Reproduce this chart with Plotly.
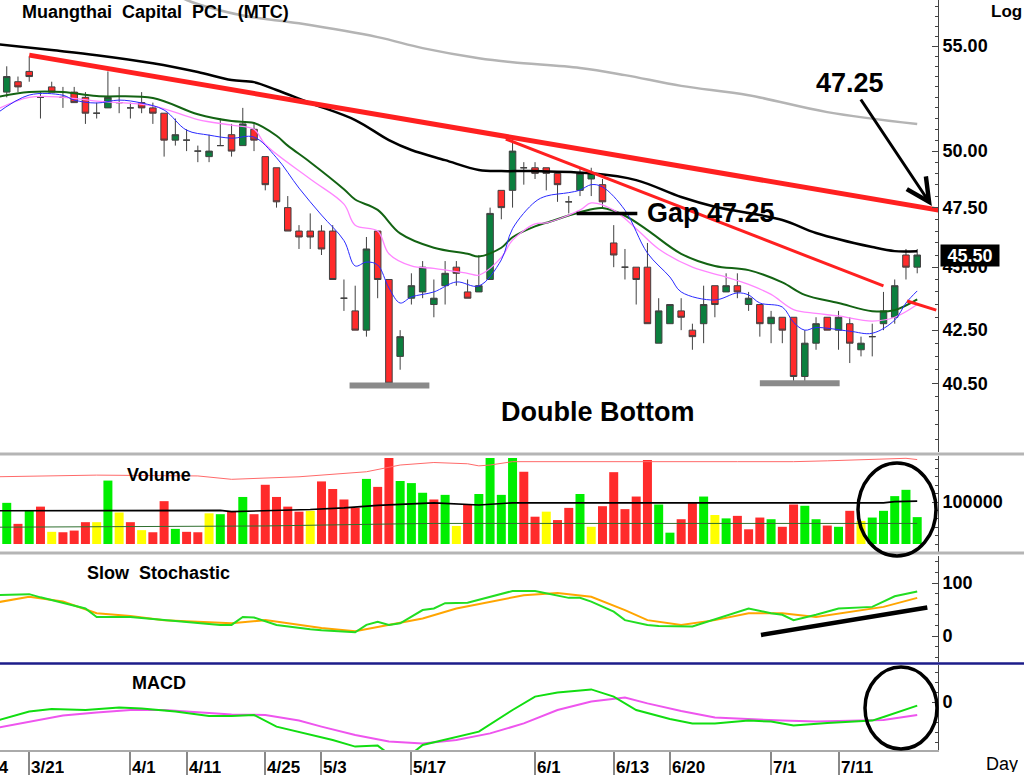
import numpy as np
import plotly.graph_objects as go

# ---------------- data ----------------
day_idx = list(range(82))
open_ = [52.75, 53.25, 53.75, 52.5, 53.0, 52.5, 52.75, 52.5, 51.75, 52.0,
         52.25, 52.0, 52.25, 52.0, 51.75, 50.5, 50.5, 50.0, 49.75, 50.25,
         50.75, 50.25, 51.0, 49.75, 49.25, 47.5, 46.5, 46.5, 46.5, 46.5,
         43.75, 43.25, 42.5, 46.5, 44.5, 41.5, 43.75, 44.0, 43.5, 44.25,
         45.0, 44.0, 44.0, 44.5, 48.25, 48.25, 49.25, 49.25, 49.25, 49.0,
         47.75, 48.25, 48.75, 48.5, 46.0, 45.0, 45.0, 45.0, 42.0, 42.75,
         43.25, 42.5, 42.75, 44.25, 44.0, 44.25, 43.5, 43.5, 42.75, 43.0,
         43.0, 40.75, 42.0, 43.0, 42.5, 42.75, 41.75, 42.25, 42.75, 43.0,
         45.5, 45.0]
high = [54.0, 53.5, 54.5, 52.75, 53.25, 53.0, 53.0, 52.75, 52.25, 53.75,
        53.0, 52.25, 52.75, 52.25, 51.75, 51.5, 51.0, 50.25, 50.75, 51.5,
        51.25, 52.0, 51.25, 49.75, 49.25, 48.0, 46.75, 47.25, 46.75, 46.75,
        44.5, 44.25, 46.25, 46.5, 44.5, 42.5, 44.75, 45.25, 44.5, 45.25,
        45.25, 44.5, 45.5, 47.5, 48.25, 50.5, 49.5, 49.5, 49.25, 49.0,
        48.0, 49.25, 49.25, 48.75, 46.75, 45.75, 45.0, 46.0, 43.75, 43.5,
        43.75, 42.75, 44.25, 44.25, 44.75, 44.75, 44.0, 43.5, 43.25, 43.0,
        43.0, 42.5, 43.0, 43.0, 43.25, 43.0, 42.25, 42.75, 44.0, 44.5,
        45.75, 45.75]
low = [52.5, 52.75, 53.25, 51.5, 52.75, 52.0, 52.25, 51.25, 51.5, 52.0,
       51.75, 51.5, 51.75, 51.25, 49.75, 50.25, 50.0, 49.5, 49.5, 50.25,
       49.75, 50.25, 50.0, 48.25, 47.5, 46.5, 45.75, 45.75, 45.5, 44.5,
       43.25, 42.5, 42.25, 43.75, 40.5, 41.0, 43.5, 43.75, 43.0, 43.5,
       44.25, 43.75, 44.0, 44.5, 47.0, 47.5, 48.5, 48.75, 48.25, 47.75,
       47.25, 48.0, 48.0, 47.5, 45.0, 44.5, 43.5, 42.75, 42.0, 42.75,
       42.5, 41.75, 42.0, 43.0, 44.0, 43.75, 43.25, 42.25, 42.0, 42.0,
       40.5, 40.5, 41.75, 42.5, 41.75, 41.25, 41.5, 41.5, 42.5, 42.75,
       44.5, 44.75]
close = [53.5, 53.0, 53.5, 52.5, 52.75, 52.5, 52.25, 51.75, 51.75, 52.5,
         52.25, 52.0, 52.0, 51.75, 50.5, 50.75, 50.5, 50.0, 50.0, 50.25,
         50.0, 51.25, 50.5, 48.5, 47.75, 46.5, 46.25, 46.25, 45.75, 44.5,
         43.75, 42.5, 45.75, 44.5, 40.5, 42.25, 44.25, 45.0, 43.75, 44.75,
         44.75, 43.75, 44.25, 47.25, 47.5, 50.0, 49.25, 49.0, 49.0, 48.5,
         47.75, 49.0, 49.0, 47.75, 45.5, 45.0, 44.5, 42.75, 43.25, 43.5,
         43.0, 42.25, 43.5, 43.5, 44.25, 44.0, 43.75, 42.75, 43.0, 42.5,
         40.75, 42.0, 42.75, 42.5, 43.0, 42.0, 42.0, 42.25, 43.25, 44.25,
         45.0, 45.5]
volume = [98000, 48000, 81000, 89000, 29000, 28000, 32000, 52000, 52000, 151000,
          75000, 52000, 33000, 28000, 102000, 36000, 29000, 28000, 73000, 71000,
          77000, 112000, 71000, 141000, 112000, 89000, 77000, 79000, 149000, 131000,
          106000, 86000, 155000, 136000, 205000, 150000, 145000, 122000, 106000, 117000,
          43000, 95000, 119000, 205000, 117000, 205000, 172000, 65000, 77000, 57000,
          86000, 119000, 41000, 90000, 171000, 83000, 113000, 200000, 94000, 27000,
          59000, 98000, 113000, 69000, 61000, 67000, 35000, 63000, 59000, 41000,
          94000, 91000, 59000, 44000, 41000, 79000, 55000, 63000, 79000, 114000,
          129000, 64000]
vol_dir = list("GRGRYRRRYG" "YRYRRGRRYG" "RGRRRRRYRR" "RRGRRGGGRG" "YRGGGGRRYR"
               "RGYRRRRRGG" "RRGYGRRRGR" "RGGRGRYGGG" "GG")

# moving averages on price (read at sample days)
ma_gray_x = [14, 16, 21, 26, 33, 37, 42, 45, 51, 55, 60, 66, 73, 81]
ma_gray = [58.0, 57.35, 56.55, 56.15, 55.45, 54.9, 54.4, 54.2, 53.92, 53.57, 53.05, 52.6, 51.8, 51.24]
ma_black_x = [-1, 4, 8, 13, 17, 20, 22, 24, 27, 31, 34, 36, 39, 42, 44, 47, 52, 56, 60, 63, 69, 72, 77, 79, 81]
ma_black = [55.1, 54.8, 54.55, 54.15, 53.72, 53.33, 53.23, 52.85, 52.23, 51.43, 50.5, 50.05, 49.59,
            49.15, 49.1, 49.1, 49.0, 48.7, 47.96, 47.54, 46.97, 46.42, 45.83, 45.66, 45.66]
ma_dgreen_x = [-1, 2, 5, 8, 13, 17, 20, 22, 24, 25, 27, 30, 31, 33, 35, 38, 41, 42, 44, 45, 47, 48,
               51, 53, 55, 57, 60, 63, 66, 69, 71, 74, 77, 79, 81]
ma_dgreen = [52.5, 52.75, 52.75, 52.56, 52.47, 51.7, 51.38, 51.29, 50.7, 50.25, 49.5, 48.3, 47.85,
             47.4, 46.4, 45.8, 45.55, 45.44, 45.8, 46.24, 46.7, 46.85, 47.3, 47.48, 47.15, 46.54,
             45.55, 45.05, 44.88, 44.38, 43.88, 43.56, 43.24, 43.28, 43.7]
ma_pink_x = [-1, 2, 5, 8, 13, 17, 20, 22, 23, 27, 30, 31, 33, 34, 36, 38, 41, 42, 44, 45, 47, 48,
             51, 52, 54, 56, 58, 61, 64, 66, 68, 70, 72, 74, 77, 79, 81]
ma_pink = [51.9, 52.5, 52.5, 52.32, 52.1, 51.45, 51.19, 51.0, 50.3, 48.75, 47.65, 46.75, 46.5,
           45.55, 45.05, 44.95, 44.75, 44.68, 45.4, 46.12, 46.8, 46.85, 47.39, 47.7, 47.39, 46.6,
           45.75, 45.0, 44.6, 44.3, 43.9, 43.3, 43.15, 43.05, 42.85, 43.0, 43.5]
ma_blue_x = [-1, 2, 5, 6, 8, 10, 12, 14, 16, 18, 20, 22, 24, 26, 28, 30, 31, 32, 33, 34, 35, 36,
             38, 40, 42, 44, 45, 47, 48, 50, 51, 52, 53, 55, 57, 59, 60, 63, 65, 66, 67, 69, 70,
             71, 72, 75, 77, 79, 80, 81]
ma_blue = [51.7, 52.61, 52.6, 52.37, 52.23, 52.37, 52.23, 51.9, 50.96, 50.73, 50.59, 50.64, 49.7,
           48.35, 47.18, 46.1, 45.05, 45.21, 45.09, 44.16, 43.56, 43.8, 44.0, 44.4, 44.24, 45.3,
           46.6, 47.75, 48.0, 48.15, 48.26, 48.5, 48.4, 47.39, 45.58, 44.6, 44.0, 43.68, 43.96,
           43.88, 43.56, 43.4, 42.8, 42.5, 42.6, 42.46, 42.38, 42.89, 43.56, 44.04]

# drawn trendlines / levels
trend_long_x, trend_long_y = [2, 82.9], [54.55, 47.39]
trend_mid_x, trend_mid_y = [44.4, 78], [50.55, 44.24]
trend_short_x, trend_short_y = [80.1, 82.7], [43.64, 43.28]
support1_x, support1_y = [30.5, 37.6], [40.42, 40.42]
support2_x, support2_y = [67.0, 74.1], [40.5, 40.5]
gap_x, gap_y = [50.7, 56.1], [47.25, 47.25]

# volume overlay lines
vol_black_x = [-1, 8, 17, 19, 20, 23, 27, 30, 33, 38, 41, 42, 45, 78, 79, 81]
vol_black = [79000, 80000, 81000, 80000, 77000, 79000, 82000, 86000, 92000, 98000, 95000, 93000,
             98000, 98000, 101000, 102000]
vol_green_x = [-1, 23, 35, 38, 81]
vol_green = [40000, 43000, 48000, 49000, 49000]
vol_red_x = [-1, 8, 17, 20, 26, 32, 35, 38, 41, 42, 43, 45, 65, 70, 73, 80, 81]
vol_red = [160000, 164000, 162000, 154000, 160000, 172000, 188000, 194000, 191000, 186000, 188000,
           196000, 196000, 196000, 198000, 204000, 201000]

# slow stochastic
stk_x = [-1, 1, 2, 3, 5, 7, 8, 11, 13, 16, 19, 20, 21, 22, 24, 27, 28, 31, 32, 33, 34, 35, 37, 38,
         39, 41, 43, 45, 47, 48, 50, 51, 52, 54, 55, 57, 58, 61, 62, 64, 66, 68, 69, 70, 72, 74,
         77, 79, 81]
stk = [77, 79, 79, 73, 62, 52, 36, 36, 32, 27, 21, 21, 36, 35, 21, 13, 11, 7, 21, 27, 21, 24, 49,
       52, 62, 63, 74, 85, 85, 81, 72, 72, 65, 46, 30, 21, 19, 18, 25, 38, 52, 43, 40, 30, 40, 52,
       55, 75, 84]
std_x = [-1, 2, 5, 8, 11, 14, 17, 20, 23, 26, 28, 31, 34, 37, 40, 43, 46, 49, 52, 55, 57, 60, 63,
         66, 69, 72, 75, 78, 81]
std = [63, 74, 65, 43, 38, 30, 27, 24, 30, 21, 15, 9, 21, 33, 52, 65, 77, 81, 74, 49, 30, 21, 30,
       43, 43, 36, 46, 55, 72]
stoch_trend_x, stoch_trend_y = [67.1, 81.9], [2, 54]

# MACD
macd_x = [-1, 2, 4, 7, 10, 12, 15, 18, 20, 22, 24, 27, 29, 31, 33, 34, 36, 37, 40, 42, 45, 47, 49,
          52, 54, 56, 59, 61, 63, 66, 68, 70, 73, 77, 78, 81]
macd = [-0.95, -0.48, -0.35, -0.4, -0.28, -0.32, -0.48, -0.7, -0.7, -0.65, -1.23, -1.65, -1.9,
        -2.23, -2.18, -2.6, -2.6, -2.15, -1.73, -1.48, -0.4, 0.27, 0.48, 0.63, 0.27, -0.4, -0.85,
        -1.07, -1.07, -0.93, -0.98, -1.18, -1.05, -0.93, -0.75, -0.18]
sig_x = [-1, 2, 5, 8, 11, 14, 17, 20, 23, 26, 28, 31, 34, 37, 40, 43, 46, 49, 52, 55, 57, 60, 63,
         66, 69, 72, 75, 78, 81]
sig = [-1.3, -0.98, -0.68, -0.52, -0.4, -0.4, -0.52, -0.62, -0.65, -0.93, -1.23, -1.65, -1.98,
       -2.07, -1.9, -1.57, -1.07, -0.4, 0.02, 0.22, -0.07, -0.45, -0.78, -0.87, -0.93, -0.98,
       -0.95, -0.9, -0.65]

# x-axis labels
date_idx = [-3, 2, 11, 16, 23, 28, 36, 47, 54, 59, 68, 74]
date_lbl = ["3/14", "3/21", "4/1", "4/11", "4/25", "5/3", "5/17", "6/1", "6/13", "6/20", "7/1", "7/11"]
price_ticks = [40.5, 42.5, 45.0, 47.5, 50.0, 55.0]
last_price = 45.50
gap_level = 47.25
arrow_target = (82.3, 47.57)

# ---------------- figure ----------------
ARIAL = "Liberation Sans, Arial, sans-serif"
H = 750.0
W = 938.0
XR = [-0.6, 82.85]

def py(p):  # pixel row -> paper y
    return 1 - p / H

def xpaper(i):  # day index -> paper x (labels may sit left of the visible range)
    return (i - XR[0]) / (XR[1] - XR[0])

fig = go.Figure()

fig.add_trace(go.Candlestick(
    x=day_idx, open=open_, high=high, low=low, close=close,
    increasing=dict(line=dict(color="#404040", width=1), fillcolor="#0b7f3e"),
    decreasing=dict(line=dict(color="#404040", width=1), fillcolor="#ff2b2b"),
    whiskerwidth=0, xaxis="x", yaxis="y", hoverinfo="skip"))

def line(x, y, color, width, yaxis="y", shape="linear"):
    fig.add_trace(go.Scatter(x=x, y=y, mode="lines", xaxis="x", yaxis=yaxis,
                             line=dict(color=color, width=width, shape=shape),
                             hoverinfo="skip"))

line(ma_gray_x, ma_gray, "#b4b4b4", 2.5, shape="spline")
line(ma_black_x, ma_black, "#000000", 2.5, shape="spline")
line(ma_dgreen_x, ma_dgreen, "#136313", 2, shape="spline")
line(ma_pink_x, ma_pink, "#ff85ff", 1.3, shape="spline")
line(ma_blue_x, ma_blue, "#2a2aff", 1, shape="spline")
line(trend_long_x, trend_long_y, "#ff2020", 5)
line(trend_mid_x, trend_mid_y, "#ff2020", 3)
line(trend_short_x, trend_short_y, "#ff2020", 3)
line(support1_x, support1_y, "#8a8a8a", 6)
line(support2_x, support2_y, "#8a8a8a", 6)
line(gap_x, gap_y, "#000000", 3.5)

cmap = {"G": "#00ee00", "R": "#ff2b2b", "Y": "#ffff00"}
fig.add_trace(go.Bar(x=day_idx, y=volume, marker=dict(color=[cmap[c] for c in vol_dir],
                     line=dict(width=0)), xaxis="x", yaxis="y2", hoverinfo="skip"))
line(vol_red_x, vol_red, "#ff6a6a", 1, yaxis="y2")
line(vol_black_x, vol_black, "#000000", 1.6, yaxis="y2")
line(vol_green_x, vol_green, "#2f6f2f", 1, yaxis="y2")

line(std_x, std, "#ffa500", 2, yaxis="y3")
line(stk_x, stk, "#22dd22", 2, yaxis="y3")
line(stoch_trend_x, stoch_trend_y, "#000000", 4.5, yaxis="y3")

line(sig_x, sig, "#ee55ee", 2, yaxis="y4")
line(macd_x, macd, "#11dd11", 2, yaxis="y4")

axis_common = dict(side="right", anchor="x", showline=True, linecolor="#444", linewidth=1,
                   ticks="inside", ticklen=6, tickcolor="#444", showgrid=False, zeroline=False,
                   tickfont=dict(family=ARIAL, size=18, color="#000", weight="bold"))

minor_price = [v / 2 for v in range(77, 116)]
fig.update_layout(
    width=1024, height=775, margin=dict(l=0, r=86, t=0, b=25),
    paper_bgcolor="white", plot_bgcolor="white", showlegend=False,
    hovermode=False, bargap=0.2, boxgap=0.17,
    xaxis=dict(domain=[0, 1], range=XR, anchor="y4", showgrid=False, zeroline=False,
               showline=True, linecolor="#aaaaaa", linewidth=1.5,
               ticks="outside", ticklen=25, tickwidth=1.5, tickcolor="#888888",
               tickvals=date_idx, showticklabels=False, rangeslider=dict(visible=False)),
    yaxis=dict(domain=[py(452), 1], type="log",
               range=[np.log10(38.05), np.log10(57.35)],
               tickvals=price_ticks, ticktext=[f"{v:.2f}" for v in price_ticks],
               minor=dict(tickvals=minor_price, ticks="inside", ticklen=3, tickcolor="#444"),
               **axis_common),
    yaxis2=dict(domain=[py(553), py(456)], range=[-21400, 209500],
                tickvals=[100000], ticktext=["100000"],
                minor=dict(dtick=20000, ticks="inside", ticklen=3, tickcolor="#444"),
                **axis_common),
    yaxis3=dict(domain=[py(662), py(556)], range=[-49, 151], tickvals=[0, 100],
                minor=dict(dtick=20, ticks="inside", ticklen=3, tickcolor="#444"),
                **axis_common),
    yaxis4=dict(domain=[0, py(665)], range=[-2.4, 1.85], tickvals=[0],
                minor=dict(dtick=0.5, ticks="inside", ticklen=3, tickcolor="#444"),
                **axis_common),
)

shapes = [
    dict(type="line", xref="paper", yref="paper", x0=0, x1=1024 / W, y0=py(454), y1=py(454),
         line=dict(color="#b5b5b5", width=3)),
    dict(type="line", xref="paper", yref="paper", x0=0, x1=1024 / W, y0=py(553), y1=py(553),
         line=dict(color="#b5b5b5", width=3)),
    dict(type="line", xref="paper", yref="paper", x0=0, x1=1024 / W, y0=py(663.5), y1=py(663.5),
         line=dict(color="#1d1d8a", width=2.5)),
    dict(type="circle", xref="paper", yref="paper", x0=858 / W, x1=936 / W, y0=py(556), y1=py(463),
         line=dict(color="#000", width=3.5)),
    dict(type="circle", xref="paper", yref="paper", x0=865 / W, x1=937 / W, y0=py(749), y1=py(667),
         line=dict(color="#000", width=3.5)),
]
fig.update_layout(shapes=shapes)

ann = []
def label(text, x, y, size=18, family=ARIAL, xref="paper", yref="paper", xanchor="left",
          yanchor="top", color="#000", **kw):
    ann.append(dict(text=text, x=x, y=y, xref=xref, yref=yref, xanchor=xanchor, yanchor=yanchor,
                    showarrow=False, font=dict(family=family, size=size, color=color), **kw))

label("<b>Muangthai  Capital  PCL  (MTC)</b>", 20 / W, 1.0)
label("<b>Log</b>", 989 / W, 1.0, size=17)
label("<b>Volume</b>", 125 / W, py(462.5))
label("<b>Slow  Stochastic</b>", 85 / W, py(560.5))
label("<b>MACD</b>", 130 / W, py(671))
label("Day", 985 / W, 0, size=18, yshift=-5, height=16, borderpad=0)
for xi, t in zip(date_idx, date_lbl):
    label(f"<b>{t}</b>", xpaper(xi), 0, size=17, xshift=1, yshift=-8, height=16, borderpad=0)
label(f"<b>Gap {gap_level:.2f}</b>", 56.8, np.log10(gap_level), size=27,
      xref="x", yref="y", yanchor="middle")
label("<b>Double Bottom</b>", 52.6, np.log10(39.47), size=27, xref="x",
      yref="y", xanchor="center", yanchor="middle")
label(f"<b>{last_price:.2f}</b>", 940 / W, np.log10(last_price), size=18, yref="y",
      yanchor="middle", color="white", bgcolor="black", width=58, height=21, borderpad=0)
ann.append(dict(text=f"<b>{gap_level:.2f}</b>", x=arrow_target[0], y=np.log10(arrow_target[1]),
                xref="x", yref="y", ax=-82, ay=-123, showarrow=True, arrowhead=5,
                arrowsize=1.5, arrowwidth=3, arrowcolor="#000", standoff=0,
                font=dict(family=ARIAL, size=27, color="#000")))
fig.update_layout(annotations=ann)

fig.write_html("out.html", config={"displayModeBar": False},
               post_script="document.body.style.margin='0px';document.body.style.overflow='hidden';")
